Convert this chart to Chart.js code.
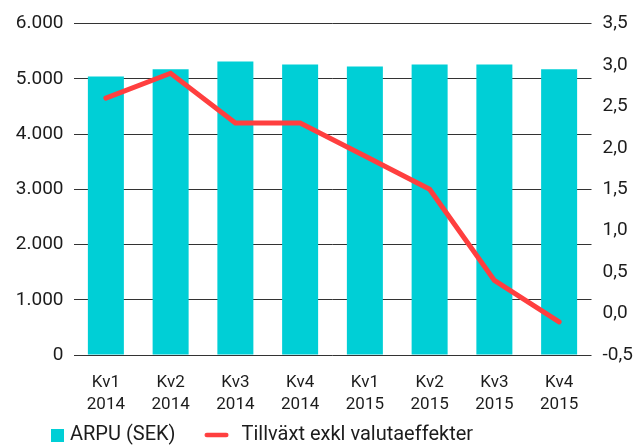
<!DOCTYPE html>
<html>
<head>
<meta charset="utf-8">
<script src="https://cdn.jsdelivr.net/npm/chart.js@4"></script>
<style>
  html, body { margin: 0; padding: 0; background: #fff; }
</style>
</head>
<body>
<canvas id="chart" width="639" height="445"></canvas>
<script>
const kvartal = [["Kv1", "2014"], ["Kv2", "2014"], ["Kv3", "2014"], ["Kv4", "2014"],
                 ["Kv1", "2015"], ["Kv2", "2015"], ["Kv3", "2015"], ["Kv4", "2015"]];
const arpu = [5040, 5170, 5310, 5260, 5220, 5260, 5260, 5170];
const tillvaxt = [2.6, 2.9, 2.3, 2.3, 1.9, 1.5, 0.4, -0.1];
const leftAxis = { min: 0, max: 6000, step: 1000 };
const rightAxis = { min: -0.5, max: 3.5, step: 0.5 };

const TEAL = "#00cfd6";
const RED = "#ff3f3f";
const INK = "#1c1c1c";
const FONT = "Roboto";
const LEGEND_GAP = 51;   // horizontal space between the two legend items
const LEGEND_Y = 435;    // centre line of the legend row

const tusental = v => String(v).replace(/\B(?=(\d{3})+(?!\d))/g, ".");
const decimal = v => v.toFixed(1).replace(".", ",");

// legend markers as small canvases, so square and line can sit like the original
function legendSquare() {
  const c = document.createElement("canvas");
  c.width = 13; c.height = 13;
  const g = c.getContext("2d");
  g.fillStyle = TEAL;
  g.fillRect(0, 0, 13, 13);
  return c;
}

function legendLine() {
  const c = document.createElement("canvas");
  c.width = 50; c.height = 10;
  const g = c.getContext("2d");
  g.strokeStyle = RED;
  g.lineWidth = 4.5;
  g.lineCap = "round";
  g.beginPath();
  g.moveTo(2.75, 5);
  g.lineTo(22.25, 5);
  g.stroke();
  return c;
}
const markers = [legendSquare(), legendLine()];

// the wide item gap also pads the legend vertically, pull the row back up
const legendRow = {
  id: "legendRow",
  afterLayout(chart) {
    const l = chart.legend;
    const dy = l.top + LEGEND_GAP + 10 - LEGEND_Y;
    l.top -= dy;
    l.bottom -= dy;
  },
};

new Chart(document.getElementById("chart"), {
  data: {
    labels: kvartal,
    datasets: [
      {
        type: "bar",
        label: "ARPU (SEK)",
        data: arpu,
        yAxisID: "y",
        backgroundColor: TEAL,
        borderWidth: 0,
        categoryPercentage: 1,
        barPercentage: 0.556,
        order: 1,
      },
      {
        type: "line",
        label: "Tillväxt exkl valutaeffekter",
        data: tillvaxt,
        yAxisID: "y2",
        borderColor: RED,
        backgroundColor: RED,
        borderWidth: 5,
        borderCapStyle: "round",
        pointRadius: 0,
        tension: 0,
        order: 0,
      },
    ],
  },
  plugins: [legendRow],
  options: {
    responsive: false,
    animation: false,
    devicePixelRatio: 1,
    layout: { padding: { top: 23.5, left: 4, right: 0, bottom: -53 } },
    plugins: {
      tooltip: { enabled: false },
      legend: {
        position: "bottom",
        align: "start",
        labels: {
          usePointStyle: true,
          pointStyleWidth: 5,
          boxHeight: 13,
          padding: LEGEND_GAP,
          color: INK,
          font: { family: FONT, size: 20 },
          generateLabels: chart => {
            const items = Chart.defaults.plugins.legend.labels.generateLabels(chart);
            items.sort((a, b) => a.datasetIndex - b.datasetIndex);
            items.forEach(it => { it.pointStyle = markers[it.datasetIndex]; });
            return items;
          },
        },
      },
    },
    scales: {
      x: {
        grid: { display: false, drawTicks: false },
        border: { display: false },
        ticks: {
          color: INK,
          font: { family: FONT, size: 17, lineHeight: 1.33 },
          padding: 16,
          maxRotation: 0,
          autoSkip: false,
        },
        afterFit: s => { s.height = 62; },
      },
      y: {
        position: "left",
        min: leftAxis.min,
        max: leftAxis.max,
        grid: { color: "#333", lineWidth: 1, drawTicks: false },
        border: { display: false },
        ticks: {
          stepSize: leftAxis.step,
          color: INK,
          padding: 10,
          font: { family: FONT, size: 19 },
          callback: v => tusental(v),
        },
        afterFit: s => { s.width = 69.5; },
      },
      y2: {
        position: "right",
        min: rightAxis.min,
        max: rightAxis.max,
        grid: { display: false, drawTicks: false },
        border: { display: false },
        ticks: {
          stepSize: rightAxis.step,
          color: INK,
          padding: 11,
          font: { family: FONT, size: 19 },
          callback: v => decimal(v),
        },
        afterFit: s => { s.width = 47.5; },
      },
    },
  },
});
</script>
</body>
</html>
